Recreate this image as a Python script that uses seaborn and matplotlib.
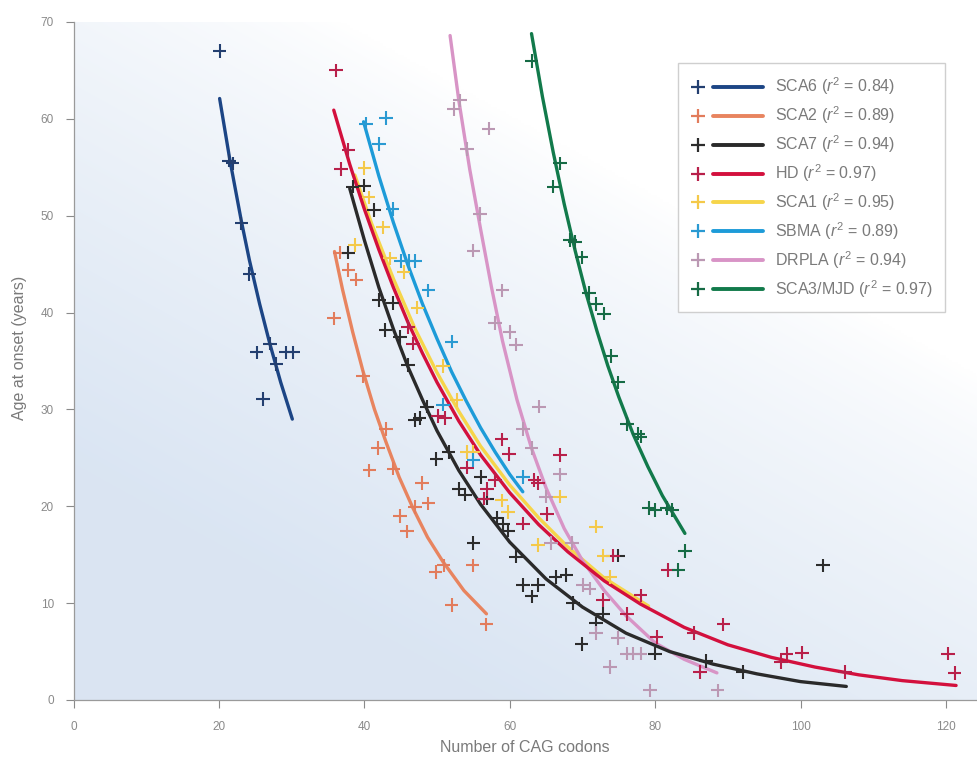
import numpy as np
import pandas as pd
import matplotlib
matplotlib.use("Agg")
import matplotlib.pyplot as plt
import seaborn as sns
from matplotlib.lines import Line2D
from matplotlib.legend_handler import HandlerBase

# ---------------- data ----------------
diseases = ["SCA6", "SCA2", "SCA7", "HD", "SCA1", "SBMA", "DRPLA", "SCA3/MJD"]
r_squared = ["0.84", "0.89", "0.94", "0.97", "0.95", "0.89", "0.94", "0.97"]

# scatter points (CAG repeats, age at onset)
sca6_x = [20.1, 21.4, 21.9, 23.1, 24.2, 25.2, 26.1, 27.0, 27.9, 29.2, 30.2]
sca6_y = [67.0, 55.7, 55.4, 49.2, 44.0, 35.9, 31.1, 36.8, 34.7, 35.9, 35.9]

sca2_x = [35.8, 36.6, 37.8, 38.9, 39.8, 43.0, 41.9, 40.7, 44.0, 47.9, 47.0, 48.8, 44.9, 45.9,
          49.8, 50.9, 54.9, 52.0, 56.8]
sca2_y = [39.4, 46.2, 44.4, 43.4, 33.4, 28.0, 26.0, 23.7, 23.9, 22.4, 19.9, 20.3, 19.0, 17.4,
          13.2, 13.9, 13.9, 9.8, 7.8]

sca7_x = [38.4, 40.0, 41.3, 37.8, 42.0, 43.9, 42.9, 44.9, 46.0, 48.6, 47.0, 47.6, 49.9, 51.6,
          56.0, 53.0, 53.9, 56.9, 58.2, 59.1, 59.8, 55.0, 60.9, 61.8, 63.9, 63.0, 66.3, 67.8,
          68.7, 72.8, 71.9, 69.9, 74.9, 80.0, 87.0, 92.1, 103.1]
sca7_y = [53.0, 53.1, 50.6, 46.2, 41.3, 41.0, 38.2, 37.5, 34.6, 30.3, 28.9, 29.1, 24.9, 25.6,
          23.0, 21.8, 21.2, 20.8, 18.8, 18.2, 17.5, 16.2, 14.8, 11.9, 11.9, 10.7, 12.7, 12.9,
          10.0, 8.9, 7.9, 5.8, 14.9, 4.8, 4.0, 2.9, 13.9]

hd_x = [36.1, 37.8, 36.8, 46.0, 46.7, 50.1, 51.1, 58.9, 59.9, 66.9, 54.1, 58.0, 56.9, 63.4,
        63.9, 56.4, 65.1, 61.8, 74.2, 72.8, 81.8, 78.0, 76.1, 80.2, 85.3, 89.4, 86.2, 98.1,
        100.2, 97.3, 106.1, 120.3, 121.2]
hd_y = [65.0, 56.8, 54.8, 38.5, 36.8, 29.3, 29.1, 26.9, 25.4, 25.3, 24.0, 22.7, 21.8, 22.7,
        22.4, 20.8, 19.2, 18.2, 14.9, 10.3, 13.4, 10.8, 8.9, 6.5, 6.9, 7.8, 2.9, 4.8,
        4.9, 3.9, 2.9, 4.8, 2.8]

sca1_x = [40.0, 40.6, 38.7, 42.6, 43.5, 45.4, 47.3, 50.8, 52.7, 55.0, 54.1, 58.9, 59.8, 66.9,
          63.9, 71.9, 72.9, 73.8]
sca1_y = [54.9, 51.9, 47.0, 48.8, 45.6, 44.2, 40.5, 34.5, 31.0, 25.6, 25.6, 20.6, 19.4, 21.0,
          16.0, 17.9, 14.9, 12.7]

sbma_x = [40.2, 43.0, 42.0, 43.9, 45.0, 46.1, 47.0, 48.8, 52.0, 50.8, 55.0, 61.8]
sbma_y = [59.5, 60.1, 57.4, 50.7, 45.3, 45.3, 45.3, 42.3, 37.0, 30.5, 24.8, 23.0]

drpla_x = [53.2, 52.3, 57.1, 54.1, 55.9, 55.0, 59.0, 58.0, 60.0, 60.9, 64.0, 61.8, 63.0, 66.9,
           65.0, 68.6, 65.7, 70.1, 71.0, 71.9, 74.9, 76.1, 77.0, 78.0, 73.8, 79.3, 88.6]
drpla_y = [61.9, 61.0, 59.0, 56.9, 50.2, 46.4, 42.3, 38.9, 38.0, 36.7, 30.3, 28.0, 26.0, 23.3,
           21.0, 16.2, 16.2, 11.9, 11.5, 6.9, 6.4, 4.8, 4.8, 4.8, 3.4, 1.0, 1.0]

sca3_x = [63.0, 66.9, 66.0, 68.3, 69.0, 69.9, 70.9, 71.9, 73.0, 74.0, 74.9, 76.1, 77.7, 78.0,
          79.1, 80.0, 81.6, 82.3, 84.1, 83.2]
sca3_y = [66.0, 55.4, 53.0, 47.5, 47.3, 45.7, 42.0, 40.9, 39.9, 35.5, 32.8, 28.5, 27.5, 27.2,
          19.8, 19.6, 19.8, 19.6, 15.4, 13.4]

# fitted curves
sca6_fit_x = [20.1, 21.5, 23.1, 24.2, 25.6, 27.0, 28.5, 30.1]
sca6_fit_y = [62.1, 55.8, 49.4, 45.4, 40.9, 36.8, 32.8, 29.0]
sca2_fit_x = [35.9, 37.0, 38.4, 39.8, 41.4, 43.0, 44.8, 46.7, 48.7, 50.8, 53.7, 56.8]
sca2_fit_y = [46.3, 42.4, 38.0, 34.0, 30.0, 26.6, 23.0, 19.8, 16.8, 14.3, 11.3, 8.9]
sca7_fit_x = [38.0, 40.0, 42.0, 44.0, 46.0, 48.0, 50.0, 53.0, 56.0, 60.0, 65.0, 70.0, 76.0,
              82.0, 88.0, 94.0, 100.0, 106.3]
sca7_fit_y = [52.8, 47.5, 42.6, 38.3, 34.4, 31.0, 27.8, 23.7, 20.2, 16.3, 12.5, 9.6, 6.9,
              5.0, 3.7, 2.7, 1.9, 1.4]
hd_fit_x = [35.8, 38.0, 40.0, 42.0, 44.0, 46.0, 48.0, 50.0, 53.0, 56.0, 60.0, 64.0, 68.0,
            73.0, 78.0, 84.0, 90.0, 96.0, 102.0, 108.0, 114.0, 121.4]
hd_fit_y = [60.9, 55.3, 50.7, 46.5, 42.6, 39.0, 35.8, 32.8, 28.8, 25.3, 21.4, 18.1, 15.3,
            12.3, 9.9, 7.5, 5.7, 4.4, 3.4, 2.6, 2.0, 1.5]
sca1_fit_x = [38.7, 41.0, 44.0, 47.0, 50.0, 53.0, 56.0, 60.0, 64.0, 68.0, 73.0, 79.1]
sca1_fit_y = [54.2, 49.2, 43.5, 38.3, 33.8, 29.8, 26.2, 22.2, 18.8, 15.8, 12.6, 9.7]
sbma_fit_x = [39.9, 42.0, 44.0, 46.0, 48.0, 50.0, 52.0, 54.0, 56.0, 58.0, 60.0, 61.8]
sbma_fit_y = [59.7, 54.1, 49.3, 44.9, 40.9, 37.3, 33.9, 30.9, 28.1, 25.6, 23.3, 21.5]
drpla_fit_x = [51.8, 53.0, 54.5, 56.0, 57.5, 59.0, 61.0, 63.0, 65.0, 67.5, 70.0, 73.0, 76.0,
               80.0, 84.0, 88.5]
drpla_fit_y = [68.6, 61.9, 54.8, 48.6, 42.6, 37.1, 31.0, 26.0, 21.9, 17.7, 14.4, 11.3, 8.7,
               5.9, 4.2, 2.8]
sca3_fit_x = [63.0, 64.5, 66.0, 67.5, 69.0, 70.5, 72.0, 73.5, 75.0, 77.0, 79.0, 81.0, 84.1]
sca3_fit_y = [68.8, 62.3, 56.5, 51.2, 46.4, 42.0, 38.1, 34.5, 31.3, 27.4, 24.1, 21.1, 17.2]

x_ticks = [0, 20, 40, 60, 80, 100, 120]
y_ticks = [0, 10, 20, 30, 40, 50, 60, 70]

# ---------------- build tables ----------------
pt_sets = {"SCA6": (sca6_x, sca6_y), "SCA2": (sca2_x, sca2_y), "SCA7": (sca7_x, sca7_y),
           "HD": (hd_x, hd_y), "SCA1": (sca1_x, sca1_y), "SBMA": (sbma_x, sbma_y),
           "DRPLA": (drpla_x, drpla_y), "SCA3/MJD": (sca3_x, sca3_y)}
fit_sets = {"SCA6": (sca6_fit_x, sca6_fit_y), "SCA2": (sca2_fit_x, sca2_fit_y),
            "SCA7": (sca7_fit_x, sca7_fit_y), "HD": (hd_fit_x, hd_fit_y),
            "SCA1": (sca1_fit_x, sca1_fit_y), "SBMA": (sbma_fit_x, sbma_fit_y),
            "DRPLA": (drpla_fit_x, drpla_fit_y), "SCA3/MJD": (sca3_fit_x, sca3_fit_y)}

pts = pd.concat([pd.DataFrame({"cag": x, "age": y, "disease": d}) for d, (x, y) in pt_sets.items()],
                ignore_index=True)
fits = pd.concat([pd.DataFrame({"cag": x, "age": y, "disease": d})
                  for d, (x, y) in fit_sets.items()], ignore_index=True)

line_colors = {"SCA6": "#1c4585", "SCA2": "#e8845f", "SCA7": "#2a2a2a", "HD": "#d3103d",
               "SCA1": "#f6d54a", "SBMA": "#1d9bd8", "DRPLA": "#d894c6", "SCA3/MJD": "#127a4b"}
marker_colors = {"SCA6": "#233f70", "SCA2": "#e27c5c", "SCA7": "#2c2c2c", "HD": "#b8204a",
                 "SCA1": "#f4c94a", "SBMA": "#2a9ad2", "DRPLA": "#bb98b3", "SCA3/MJD": "#166b45"}

# ---------------- style ----------------
sns.set_theme(style="ticks")
plt.rcParams["font.family"] = ["Liberation Sans", "DejaVu Sans"]
plt.rcParams["mathtext.fontset"] = "custom"
plt.rcParams["mathtext.rm"] = "Liberation Sans"
plt.rcParams["mathtext.it"] = "Liberation Sans:italic"

W, H = 977, 759
fig = plt.figure(figsize=(W / 100, H / 100), dpi=100)
x0px, ybot, ytop = 73.5, 700, 22
ax = fig.add_axes([x0px / W, (H - ybot) / H, (W - x0px) / W, (ybot - ytop) / H])
fig.patch.set_facecolor("white")

# soft bluish background gradient
gx, gy = np.meshgrid(np.linspace(0, 1, 300), np.linspace(0, 1, 300))
t = np.clip(1.4 - (0.85 * gx + 1.15 * gy), 0, 1) ** 0.75
blue = np.array([0.855, 0.898, 0.952])
img = (1 - t[..., None]) * np.ones(3) + t[..., None] * blue
ax.imshow(img, extent=[0, 1, 0, 1], transform=ax.transAxes, origin="lower",
          aspect="auto", zorder=0, interpolation="bilinear")

draw_order = ["SCA1", "SBMA", "SCA2", "DRPLA", "HD", "SCA7", "SCA6", "SCA3/MJD"]
sns.lineplot(data=fits, x="cag", y="age", hue="disease", hue_order=draw_order,
             palette=line_colors, estimator=None, sort=False, units="disease",
             linewidth=2.4, legend=False, ax=ax, zorder=2)
sns.scatterplot(data=pts, x="cag", y="age", hue="disease", hue_order=draw_order,
                palette=marker_colors, marker="+", s=95, linewidth=1.5,
                legend=False, ax=ax, zorder=3)

ax.set_xlim(0, (W - x0px) / 7.27)
ax.set_ylim(0, 70)
ax.set_xticks(x_ticks)
ax.set_yticks(y_ticks)
for s in ["top", "right"]:
    ax.spines[s].set_visible(False)
for s in ["left", "bottom"]:
    ax.spines[s].set_color("#9a9a9a")
    ax.spines[s].set_linewidth(0.9)
ax.tick_params(axis="both", colors="#8a8a8a", labelcolor="#8a8a8a", labelsize=8.5, width=0.8)
ax.tick_params(axis="y", length=6, pad=8)
ax.tick_params(axis="x", length=6, pad=9)
ax.set_xlabel("Number of CAG codons", fontsize=11.5, color="#7a7a7a", labelpad=5)
ax.set_ylabel("Age at onset (years)", fontsize=11.5, color="#7a7a7a", labelpad=7)
ax.yaxis.set_label_coords(-0.052, 0.52)


class MarkerLineHandler(HandlerBase):
    def create_artists(self, legend, orig_handle, xdescent, ydescent, width, height,
                       fontsize, trans):
        y = height / 2 - ydescent
        x0 = -xdescent
        m = Line2D([x0 + 0.1 * width], [y], marker="+", markersize=10, mew=1.6,
                   color=orig_handle.get_markeredgecolor(), linestyle="none")
        ln = Line2D([x0 + 0.31 * width, x0 + width], [y, y], color=orig_handle.get_color(),
                    lw=2.8, solid_capstyle="round")
        m.set_transform(trans)
        ln.set_transform(trans)
        return [m, ln]


handles, labels = [], []
for d, r2 in zip(diseases, r_squared):
    handles.append(Line2D([], [], color=line_colors[d], markeredgecolor=marker_colors[d]))
    labels.append(d + " ($r^2$ = " + r2 + ")")

leg = ax.legend(handles, labels, handler_map={Line2D: MarkerLineHandler()},
                loc="upper right", bbox_to_anchor=(945 / W, 1 - 63 / H),
                bbox_transform=fig.transFigure, borderaxespad=0, frameon=True,
                fancybox=False, edgecolor="#cfcfcf", facecolor="white", framealpha=1,
                handlelength=4.5, handletextpad=0.75, labelspacing=0.45, borderpad=0.8,
                fontsize=11.5, labelcolor="#7a7a7a")
leg.get_frame().set_linewidth(1.0)

fig.savefig("out.png", dpi=100)
